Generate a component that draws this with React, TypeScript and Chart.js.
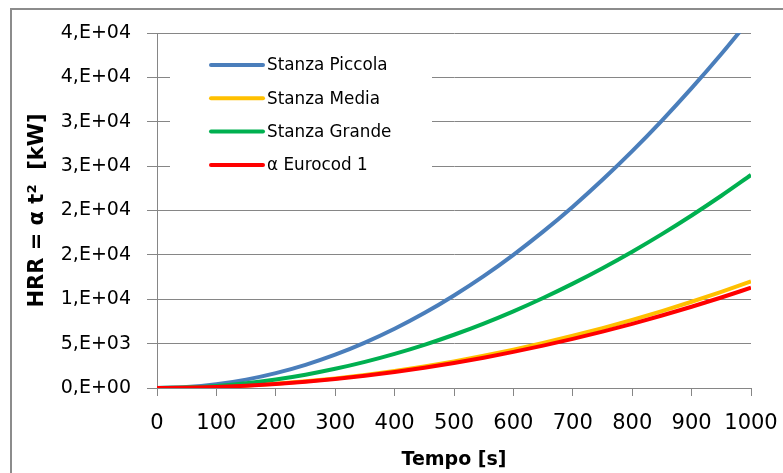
import React, { useEffect, useRef } from "react";
import { Chart, registerables } from "chart.js";

Chart.register(...registerables);

// ---- data ----
const timeSeconds = [0, 50, 100, 150, 200, 250, 300, 350, 400, 450, 500, 550, 600, 650, 700, 750, 800, 850, 900, 950, 1000];
const stanzaPiccola = [0, 100, 420, 940, 1670, 2610, 3750, 5110, 6670, 8440, 10430, 12610, 15010, 17620, 20430, 23460, 26690, 30130, 33780, 37630, 41700];
const stanzaMedia = [0, 30, 120, 270, 480, 750, 1080, 1470, 1920, 2430, 3000, 3630, 4320, 5070, 5880, 6750, 7680, 8670, 9720, 10830, 12000];
const stanzaGrande = [0, 60, 240, 540, 960, 1500, 2160, 2940, 3840, 4860, 6000, 7260, 8640, 10140, 11760, 13500, 15360, 17340, 19440, 21660, 24000];
const eurocod1 = [0, 28, 113, 254, 452, 706, 1017, 1384, 1808, 2288, 2825, 3418, 4068, 4774, 5537, 6356, 7232, 8164, 9153, 10198, 11300];

const seriesLabels = ["Stanza Piccola", "Stanza Media", "Stanza Grande", "\u03B1 Eurocod 1"];
const seriesColors = ["#4A7EBB", "#FFC000", "#00B050", "#FF0000"];
const xTickLabels = ["0", "100", "200", "300", "400", "500", "600", "700", "800", "900", "1000"];
const yTickLabels = ["0,E+00", "5,E+03", "1,E+04", "2,E+04", "2,E+04", "3,E+04", "3,E+04", "4,E+04", "4,E+04"];
const xTitle = "Tempo [s]";
const yTitle = "HRR = \u03B1 t\u00B2  [kW]";

const FONT = "'DejaVu Sans', sans-serif";
const GRID = "#868686";

const framePlugin = {
  id: "frame",
  beforeDraw(chart: any) {
    const { ctx, width, height } = chart;
    ctx.save();
    ctx.fillStyle = "#ffffff";
    ctx.fillRect(0, 0, width, height);
    ctx.strokeStyle = "#8c8c8c";
    ctx.lineWidth = 2;
    ctx.beginPath();
    ctx.moveTo(11, height + 2);
    ctx.lineTo(11, 9);
    ctx.lineTo(width + 2, 9);
    ctx.stroke();
    ctx.restore();
  },
};

const legendPlugin = {
  id: "insideLegend",
  afterDraw(chart: any) {
    const { ctx } = chart;
    ctx.save();
    ctx.fillStyle = "#ffffff";
    ctx.fillRect(170, 45, 262, 135);
    ctx.font = `16.8px ${FONT}`;
    ctx.textBaseline = "middle";
    ctx.textAlign = "left";
    chart.data.datasets.forEach((ds: any, i: number) => {
      const y = 65 + i * 33.3;
      ctx.strokeStyle = ds.borderColor;
      ctx.lineWidth = 4;
      ctx.lineCap = "round";
      ctx.beginPath();
      ctx.moveTo(211, y);
      ctx.lineTo(263, y);
      ctx.stroke();
      ctx.fillStyle = "#000000";
      ctx.fillText(ds.label, 267, y + 1);
    });
    ctx.restore();
  },
};

export default function App() {
  const canvasRef = useRef<HTMLCanvasElement | null>(null);

  useEffect(() => {
    document.body.style.margin = "0";
    const canvas = canvasRef.current;
    if (!canvas) return;
    const seriesValues = [stanzaPiccola, stanzaMedia, stanzaGrande, eurocod1];
    const datasets = seriesValues.map((vals, i) => ({
      label: seriesLabels[i],
      data: timeSeconds.map((t, j) => ({ x: t, y: vals[j] })),
      borderColor: seriesColors[i],
      backgroundColor: seriesColors[i],
      borderWidth: 4,
      pointRadius: 0,
      fill: false,
      cubicInterpolationMode: "monotone" as const,
      order: 4 - i,
    }));

    const chart = new Chart(canvas, {
      type: "line",
      data: { datasets },
      options: {
        animation: false,
        responsive: false,
        devicePixelRatio: 1,
        layout: { padding: { left: 14, right: 32, top: 33, bottom: 0 } },
        plugins: {
          legend: { display: false },
          tooltip: { enabled: false },
        },
        scales: {
          x: {
            type: "linear",
            min: 0,
            max: 1000,
            afterFit: (scale: any) => {
              scale.height = 85;
              scale.paddingLeft = 0;
              scale.paddingRight = 0;
            },
            ticks: {
              stepSize: 100,
              autoSkip: false,
              color: "#000",
              font: { family: FONT, size: 21 },
              padding: 15,
              maxRotation: 0,
              callback: (_v: any, idx: number) => xTickLabels[idx],
            },
            grid: {
              drawOnChartArea: false,
              drawTicks: true,
              tickLength: 8,
              color: GRID,
            },
            border: { display: true, color: GRID, width: 1 },
            title: {
              display: true,
              text: xTitle,
              color: "#000",
              font: { family: FONT, size: 19, weight: "bold" },
              padding: { top: 0, bottom: 2 },
            },
          },
          y: {
            type: "linear",
            min: 0,
            max: 40000,
            afterFit: (scale: any) => {
              scale.width = 143;
              scale.paddingTop = 0;
              scale.paddingBottom = 0;
            },
            ticks: {
              stepSize: 5000,
              color: "#000",
              font: { family: FONT, size: 19 },
              padding: 16,
              callback: (_v: any, idx: number) => yTickLabels[idx],
            },
            grid: {
              drawOnChartArea: true,
              drawTicks: true,
              tickLength: 10,
              color: GRID,
            },
            border: { display: true, color: GRID, width: 1 },
            title: {
              display: true,
              text: yTitle,
              color: "#000",
              font: { family: FONT, size: 21, weight: "bold" },
              padding: { top: 11, bottom: 0 },
            },
          },
        },
      },
      plugins: [framePlugin, legendPlugin],
    });
    return () => chart.destroy();
  }, []);

  return <canvas ref={canvasRef} width={783} height={473} style={{ display: "block" }} />;
}
